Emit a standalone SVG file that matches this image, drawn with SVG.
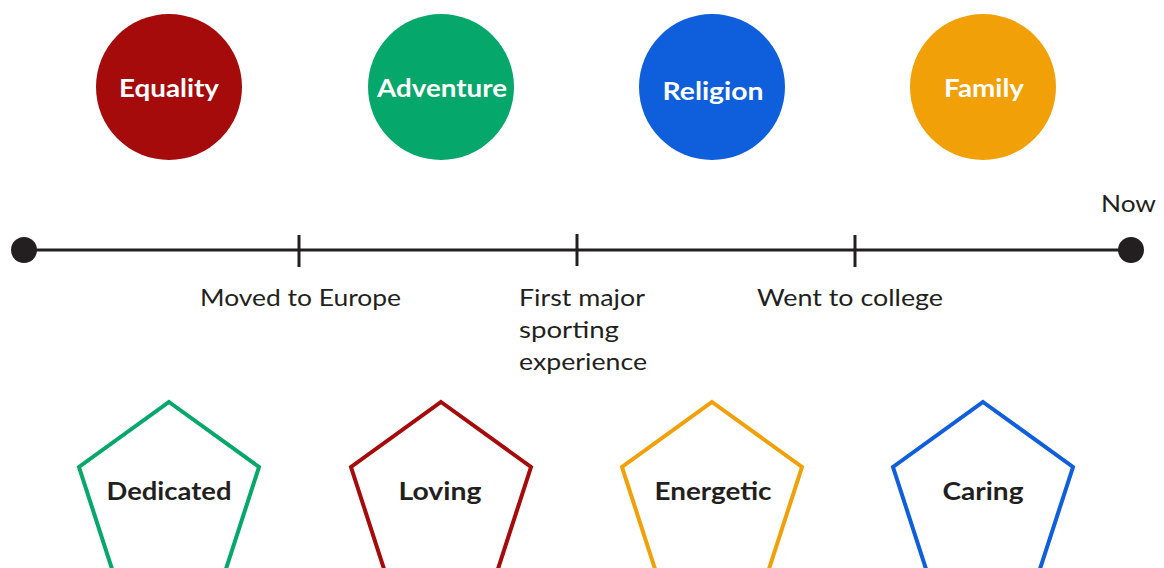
<svg xmlns="http://www.w3.org/2000/svg" width="1164" height="568" viewBox="0 0 1164 568">
<style>
.ct{font-family:Lato,"Noto Sans",sans-serif;font-weight:700;font-size:25px;fill:#fff;text-anchor:middle}
.pt{font-family:Lato,"Noto Sans",sans-serif;font-weight:700;font-size:25px;fill:#231f20;text-anchor:middle}
.lb{font-family:Lato,"Noto Sans",sans-serif;font-size:24px;fill:#231f20}
.pg{fill:none;stroke-width:4}
.tl{stroke:#231f20;stroke-width:3}
</style>
<rect width="1164" height="568" fill="#fff"/>
<g id="equality"><circle cx="169" cy="87" r="73" fill="#a50b0b"/><text class="ct" x="169" y="97" textLength="100" lengthAdjust="spacingAndGlyphs">Equality</text></g>
<g id="adventure"><circle cx="441" cy="87" r="73" fill="#06a76a"/><text class="ct" x="442" y="97" textLength="130" lengthAdjust="spacingAndGlyphs">Adventure</text></g>
<g id="religion"><circle cx="712" cy="87" r="73" fill="#0f5fdc"/><text class="ct" x="713" y="100" textLength="101" lengthAdjust="spacingAndGlyphs">Religion</text></g>
<g id="family"><circle cx="983" cy="87" r="73" fill="#f2a007"/><text class="ct" x="984" y="97" textLength="80" lengthAdjust="spacingAndGlyphs">Family</text></g>
<g id="timeline">
<line class="tl" x1="24" y1="250" x2="1131" y2="250"/>
<circle cx="24" cy="250" r="13" fill="#231f20"/>
<circle cx="1131" cy="250" r="13" fill="#231f20"/>
<line class="tl" x1="299" y1="235" x2="299" y2="267"/>
<line class="tl" x1="577" y1="234" x2="577" y2="266"/>
<line class="tl" x1="855" y1="235" x2="855" y2="267"/>
</g>
<g id="labels">
<text class="lb" x="1101" y="212" textLength="55" lengthAdjust="spacingAndGlyphs">Now</text>
<text class="lb" x="200" y="306" textLength="201" lengthAdjust="spacingAndGlyphs">Moved to Europe</text>
<text class="lb" x="519" y="306" textLength="126" lengthAdjust="spacingAndGlyphs">First major</text>
<text class="lb" x="519" y="338" textLength="100" lengthAdjust="spacingAndGlyphs">sporting</text>
<text class="lb" x="519" y="370" textLength="128" lengthAdjust="spacingAndGlyphs">experience</text>
<text class="lb" x="757" y="306" textLength="186" lengthAdjust="spacingAndGlyphs">Went to college</text>
</g>
<g id="dedicated"><polygon class="pg" stroke="#06a76a" points="169,402 259,467 225,572 113,572 79,467"/><text class="pt" x="169" y="500" textLength="125" lengthAdjust="spacingAndGlyphs">Dedicated</text></g>
<g id="loving"><polygon class="pg" stroke="#a50b0b" points="441,402 531,467 497,572 385,572 351,467"/><text class="pt" x="440" y="500" textLength="83" lengthAdjust="spacingAndGlyphs">Loving</text></g>
<g id="energetic"><polygon class="pg" stroke="#f2a007" points="712,402 802,467 768,572 656,572 622,467"/><text class="pt" x="713" y="500" textLength="117" lengthAdjust="spacingAndGlyphs">Energetic</text></g>
<g id="caring"><polygon class="pg" stroke="#0f5fdc" points="983,402 1073,467 1039,572 927,572 893,467"/><text class="pt" x="983" y="500" textLength="81" lengthAdjust="spacingAndGlyphs">Caring</text></g>
</svg>
